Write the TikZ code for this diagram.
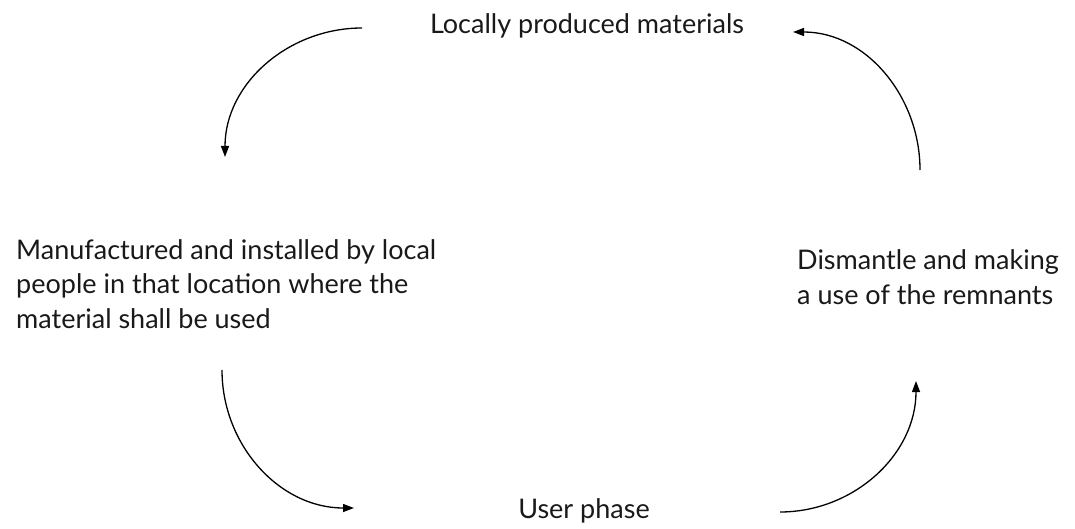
\documentclass[tikz,border=0pt]{standalone}
\usepackage{fontspec}
\setmainfont{Lato}
\usepackage{tikz}
\usetikzlibrary{positioning,arrows.meta}

\begin{document}
\begin{tikzpicture}[
  x=1pt,y=-1pt,
  font=\fontsize{27}{34.5}\selectfont,
  lbl/.style={inner sep=0pt,align=left,text=black!90},
  ar/.style={-{Triangle[length=11pt,width=8pt]},line width=1.3pt}
]
\useasboundingbox (0,0) rectangle (1075,529);
% stages of the cycle
\node[lbl,anchor=base] (mat) at (587,34) {Locally produced materials};
\node[lbl,anchor=west] (make) at (16,284)
  {Manufactured and installed by local\\
   people in that location where the\\
   material shall be used};
\node[lbl,anchor=west] (dism) at (797,277)
  {Dismantle and making\\a use of the remnants};
\node[lbl,anchor=base] (user) at (584,518) {User phase};
% free ends of the arrows
\coordinate (a1) at (362,28);  \coordinate (b1) at (225,157);
\coordinate (a2) at (920,170); \coordinate (b2) at (793,32);
\coordinate (a3) at (222,370); \coordinate (b3) at (354,508);
\coordinate (a4) at (780,512); \coordinate (b4) at (916,381);
\draw[ar] (a1) to[out=180,in=90] (b1);
\draw[ar] (a3) to[out=-90,in=180] (b3);
\draw[ar] (a4) to[out=0,in=-90] (b4);
\draw[ar] (a2) to[out=90,in=0] (b2);
\end{tikzpicture}
\end{document}
